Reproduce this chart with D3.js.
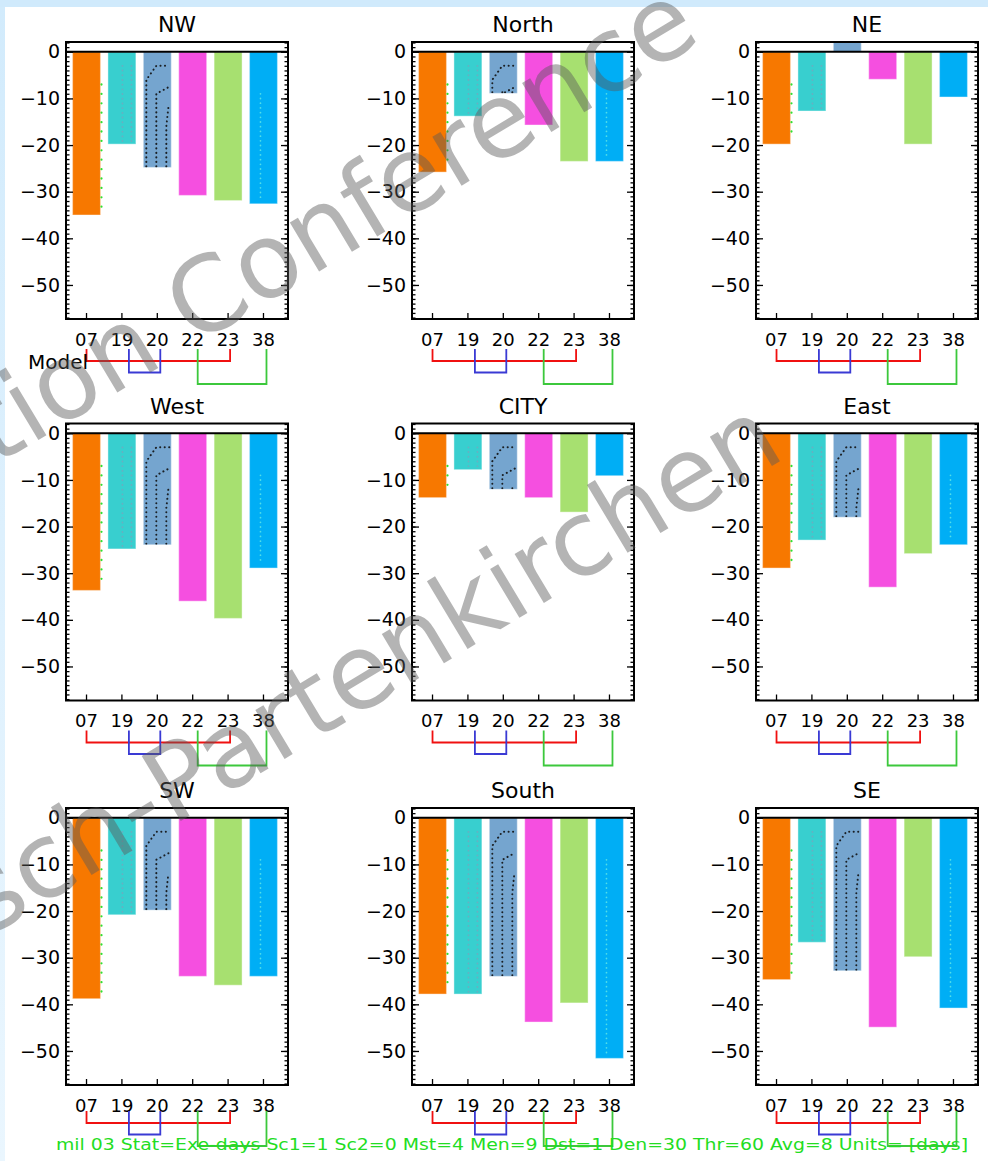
<!DOCTYPE html>
<html>
<head>
<meta charset="utf-8">
<script src="https://cdn.jsdelivr.net/npm/d3@7"></script>
<style>
  html, body { margin: 0; padding: 0; background: #fff; }
  svg { display: block; }
  text { font-family: "DejaVu Sans", sans-serif; }
</style>
</head>
<body>
<svg id="chart" width="988" height="1161"></svg>
<script>
// ---- data -------------------------------------------------------------
const models  = ["07", "19", "20", "22", "23", "38"];
const regions = ["NW", "North", "NE", "West", "CITY", "East", "SW", "South", "SE"];

// change in exceedance days per model, one array per region
const valuesNW    = [-35.0, -19.8, -24.8, -30.8, -31.9, -32.6];
const valuesNorth = [-25.8, -13.8,  -8.9, -15.7, -23.5, -23.5];
const valuesNE    = [-19.8, -12.7,   2.1,  -5.9, -19.8,  -9.7];
const valuesWest  = [-33.7, -24.8, -23.9, -36.0, -39.7, -28.9];
const valuesCITY  = [-13.8,  -7.8, -12.0, -13.8, -16.9,  -9.1];
const valuesEast  = [-28.9, -22.9, -18.0, -33.0, -25.8, -23.9];
const valuesSW    = [-38.8, -20.8, -19.8, -34.0, -35.9, -34.0];
const valuesSouth = [-37.8, -37.8, -34.0, -43.8, -39.7, -51.6];
const valuesSE    = [-34.7, -26.7, -32.8, -44.9, -29.8, -40.8];

const yTickValues = [0, -10, -20, -30, -40, -50];
const yDomain = [-57.3, 2.1];

// model families joined by brackets under each panel
const modelGroups = [["07", "23"], ["19", "20"], ["22", "38"]];

const footnote = "mil 03 Stat=Exe-days Sc1=1 Sc2=0 Mst=4 Men=9 Dst=1 Den=30 Thr=60 Avg=8 Units= [days]";
const watermark1 = "tion Conference";
const watermark2 = "sch-Partenkirchen";

const panelValues = {
  NW: valuesNW, North: valuesNorth, NE: valuesNE,
  West: valuesWest, CITY: valuesCITY, East: valuesEast,
  SW: valuesSW, South: valuesSouth, SE: valuesSE
};

// ---- styles & layout --------------------------------------------------
const barColors   = ["#f77800", "#38cfcf", "#75a5cf", "#f54fe0", "#a7e070", "#00aef5"];
const groupColors = ["#f01010", "#3a3ad4", "#3cc83c"];
const bracketNudge = { "07": 0, "19": 7, "20": 3, "22": 5, "23": 2, "38": 3 };

const colX = [66, 412, 756];
const rowY = [42, 423.5, 808];
const rowBracketShift = [0, 0, -4];
const W = 222, H = 277;

const svg = d3.select("#chart");
const defs = svg.append("defs");

// page frame tint
svg.append("rect").attr("x", 0).attr("y", 0).attr("width", 988).attr("height", 1161).attr("fill", "#fff");
const grad = defs.append("linearGradient").attr("id", "edge").attr("x1", 0).attr("x2", 0).attr("y1", 0).attr("y2", 1);
grad.append("stop").attr("offset", "0").attr("stop-color", "#d2ebfc");
grad.append("stop").attr("offset", "1").attr("stop-color", "#eaf6fe");
svg.append("rect").attr("x", 0).attr("y", 0).attr("width", 5).attr("height", 1161).attr("fill", "url(#edge)");
svg.append("rect").attr("x", 0).attr("y", 0).attr("width", 988).attr("height", 7).attr("fill", "#d0eafc");

regions.forEach((region, i) => {
  const col = i % 3, row = Math.floor(i / 3);
  const g = svg.append("g").attr("transform", `translate(${colX[col]},${rowY[row]})`);
  const vals = panelValues[region];

  const y = d3.scaleLinear().domain(yDomain).range([H, 0]);
  const x = d3.scaleBand().domain(models).range([3, W - 7]).paddingInner(0.21).paddingOuter(0.1);
  const bw = x.bandwidth();

  const clipId = "plot-" + i;
  defs.append("clipPath").attr("id", clipId)
    .append("rect").attr("x", 0).attr("y", 0).attr("width", W).attr("height", H);

  const plot = g.append("g").attr("clip-path", `url(#${clipId})`);

  models.forEach((m, k) => {
    const v = vals[k];
    const bx = x(m);
    const by = y(Math.max(v, 0));
    const bh = Math.abs(y(v) - y(0));
    const barClip = `bar-${i}-${k}`;
    defs.append("clipPath").attr("id", barClip)
      .append("rect").attr("x", bx).attr("y", by).attr("width", bw).attr("height", bh);

    plot.append("rect")
      .attr("x", bx).attr("y", by).attr("width", bw).attr("height", bh)
      .attr("fill", barColors[k])
      .attr("stroke", "#ffffff").attr("stroke-opacity", 0.35).attr("stroke-width", 1.2);

    const over = plot.append("g").attr("clip-path", `url(#${barClip})`);
    const dotted = (pts, color, dash, width, opacity) => {
      over.append("path")
        .attr("d", d3.line()(pts))
        .attr("fill", "none").attr("stroke", color)
        .attr("stroke-width", width).attr("stroke-dasharray", dash)
        .attr("stroke-linecap", "round").attr("opacity", opacity);
    };
    if (v < 0) {
      if (m === "07") {
        // spread marker along the right edge
        over.attr("clip-path", null);
        if (v < -8) dotted([[bx + bw + 1, y(-7)], [bx + bw + 1, y(v + 1)]], "#2fe02f", "0.1 9.3", 2.2, 1);
      } else if (m === "19") {
        dotted([[bx + 14.5, y(-3)], [bx + 14.5, y(v)]], "#8a9ab8", "0.1 4.6", 1.8, 0.6);
        dotted([[bx + 23.5, y(-3)], [bx + 23.5, y(v)]], "#8a9ab8", "0.1 4.6", 1.8, 0.6);
      } else if (m === "20") {
        dotted([[bx + 3, y(v) - 1], [bx + 3, y(-6)], [bx + 13, y(-3)], [bx + 26, y(-3)]], "#111", "0.1 4.4", 2, 0.9);
        dotted([[bx + 13, y(v) - 1], [bx + 13, y(-9)], [bx + 26, y(-7.5)]], "#111", "0.1 4.4", 2, 0.9);
        dotted([[bx + 23, y(v) - 1], [bx + 23, y(-16)], [bx + 25, y(-12)]], "#111", "0.1 4.4", 2, 0.9);
      } else if (m === "38") {
        if (v < -10) dotted([[bx + bw / 2 - 3, y(-9)], [bx + bw / 2 - 3, y(v + 1)]], "#5fe6e6", "0.1 4.6", 1.7, 0.85);
      }
    }
  });

  // zero reference line
  g.append("line").attr("x1", 0).attr("x2", W).attr("y1", y(0)).attr("y2", y(0))
    .attr("stroke", "#000").attr("stroke-width", 2);

  // y axes: minor ticks each unit, major every 10, ticks pointing inward
  const minor = d3.range(-57, 3, 1);
  const leftMinor = g.append("g").call(d3.axisLeft(y).tickValues(minor).tickSize(-3.5).tickFormat(""));
  const rightMinor = g.append("g").attr("transform", `translate(${W},0)`)
    .call(d3.axisRight(y).tickValues(minor).tickSize(-3.5).tickFormat(""));
  const leftMajor = g.append("g").call(d3.axisLeft(y).tickValues(yTickValues).tickSize(-7).tickPadding(6));
  const rightMajor = g.append("g").attr("transform", `translate(${W},0)`)
    .call(d3.axisRight(y).tickValues(yTickValues).tickSize(-7).tickFormat(""));
  const xAxis = g.append("g").attr("transform", `translate(0,${H})`)
    .call(d3.axisBottom(x).tickSize(-6).tickPadding(14));

  [leftMinor, rightMinor, leftMajor, rightMajor, xAxis].forEach(a => {
    a.select(".domain").remove();
    a.selectAll("line").attr("stroke", "#000").attr("stroke-width", 1.3);
    a.selectAll("text").attr("fill", "#000").style("font-family", "DejaVu Sans, sans-serif");
  });
  leftMajor.selectAll("text").style("font-size", "19px");
  xAxis.selectAll("text").style("font-size", "18px");

  // frame
  g.append("rect").attr("x", 0).attr("y", 0).attr("width", W).attr("height", H)
    .attr("fill", "none").attr("stroke", "#000").attr("stroke-width", 2);

  // title
  g.append("text").attr("x", W / 2).attr("y", -10).attr("text-anchor", "middle")
    .style("font-size", "22px").attr("fill", "#000").text(region);

  // brackets linking model families
  const cx = m => x(m) + bw / 2 + bracketNudge[m];
  const level0 = H + 42 + rowBracketShift[row];
  const top = level0 - 12;
  modelGroups.forEach((grp, gi) => {
    const lv = level0 + gi * 11.5;
    g.append("path")
      .attr("d", `M${cx(grp[0])},${top}V${lv}H${cx(grp[1])}V${top}`)
      .attr("fill", "none").attr("stroke", groupColors[gi]).attr("stroke-width", 1.8);
  });

  if (i === 0) {
    g.append("text").attr("x", 28 - colX[0]).attr("y", H + 50)
      .style("font-size", "20px").attr("fill", "#000").text("Model");
  }
});

// run description line
svg.append("text").attr("x", 56).attr("y", 1150)
  .attr("textLength", 912).attr("lengthAdjust", "spacingAndGlyphs")
  .style("font-size", "16px").attr("fill", "#22dd22").text(footnote);

// overlay lettering
const wm = svg.append("g").attr("fill", "#5a5a5a").attr("opacity", 0.45)
  .style("font-family", "Liberation Sans, Arial, sans-serif").style("font-size", "104px");
wm.append("text").attr("transform", "translate(-5,466) rotate(-31)").text(watermark1);
wm.append("text").attr("transform", "translate(-12,937) rotate(-31)").text(watermark2);
</script>
</body>
</html>
